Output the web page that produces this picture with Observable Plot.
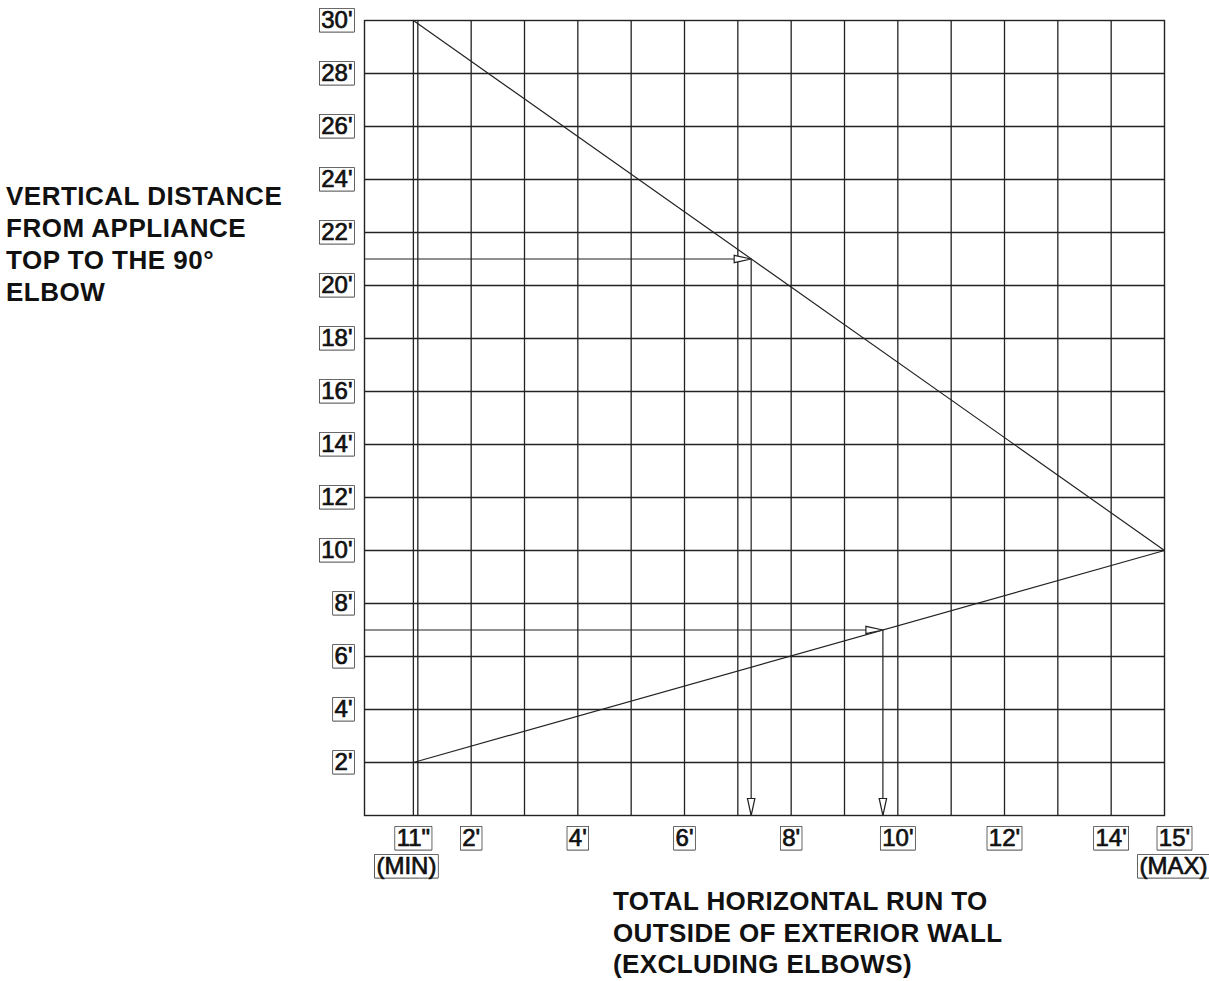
<!DOCTYPE html>
<html>
<head>
<meta charset="utf-8">
<script src="https://cdn.jsdelivr.net/npm/d3@7"></script>
<script src="https://cdn.jsdelivr.net/npm/@observablehq/plot@0.6"></script>
<style>
  html, body { margin: 0; padding: 0; background: #fff; }
  #wrap { position: relative; width: 1209px; height: 981px; font-family: "Liberation Sans", Arial, sans-serif; color: #111; }
  #ytitle { position: absolute; left: 6px; top: 180px; font-size: 26px; line-height: 32px; font-weight: bold; letter-spacing: 0.5px; }
  #xtitle { position: absolute; left: 613px; top: 886px; font-size: 26px; line-height: 31.5px; font-weight: bold; letter-spacing: 0.4px; }
  #chart { position: absolute; left: 0; top: 0; }
</style>
</head>
<body>
<div id="wrap">
  <div id="chart"></div>
  <div id="ytitle">VERTICAL DISTANCE<br>FROM APPLIANCE<br>TOP TO THE 90°<br>ELBOW</div>
  <div id="xtitle">TOTAL HORIZONTAL RUN TO<br>OUTSIDE OF EXTERIOR WALL<br>(EXCLUDING ELBOWS)</div>
</div>
<script>
// ---- data ----
const yTicks = [2, 4, 6, 8, 10, 12, 14, 16, 18, 20, 22, 24, 26, 28, 30];
const yTickLabels = ["2'", "4'", "6'", "8'", "10'", "12'", "14'", "16'", "18'", "20'", "22'", "24'", "26'", "28'", "30'"];
const xTicks = [11 / 12, 2, 4, 6, 8, 10, 12, 14];
const xTickLabels = ['11"', "2'", "4'", "6'", "8'", "10'", "12'", "14'"];
const xMaxTick = [15];
const xMaxLabel = ["15'"];
const subTicks = [11 / 12, 15];
const subLabels = ["(MIN)", "(MAX)"];
const xGrid = [1, 2, 3, 4, 5, 6, 7, 8, 9, 10, 11, 12, 13, 14];
const yGrid = [2, 4, 6, 8, 10, 12, 14, 16, 18, 20, 22, 24, 26, 28];
const minRun = 11 / 12;            // 11 inches
const limitX = [11 / 12, 15];
const upperY = [30, 10];
const lowerY = [2, 10];
const readV = [21, 7];             // example vertical distances
const readH = [7.25, 9.72];        // resulting horizontal runs

// ---- tables ----
const yLab = yTicks.map((v, i) => ({ v, label: yTickLabels[i] }));
const xLab = xTicks.map((v, i) => ({ v, label: xTickLabels[i] }));
const xMax = xMaxTick.map((v, i) => ({ v, label: xMaxLabel[i] }));
const xSubMin = [{ v: subTicks[0], label: subLabels[0] }];
const xSubMax = [{ v: subTicks[1], label: subLabels[1] }];
const upper = limitX.map((x, i) => ({ x, y: upperY[i] }));
const lower = limitX.map((x, i) => ({ x, y: lowerY[i] }));
const reads = readV.map((v, i) => ({ v, h: readH[i] }));

const headDown = { draw(ctx) { ctx.moveTo(0, 0); ctx.lineTo(-3.7, -17); ctx.lineTo(3.7, -17); ctx.closePath(); } };
const headRight = { draw(ctx) { ctx.moveTo(0, 0); ctx.lineTo(-17, -3.7); ctx.lineTo(-17, 3.7); ctx.closePath(); } };

const ink = "#222";
const H = 890;
const lab = { fontSize: 24, fill: "#111", stroke: "#111", strokeWidth: 0.7 };
const chart = Plot.plot({
  width: 1209,
  height: H,
  marginLeft: 364,
  marginRight: 45,
  marginTop: 20,
  marginBottom: H - 815,
  style: { fontFamily: "'Liberation Sans', Arial, sans-serif", background: "white", color: "#111" },
  x: { domain: [0, 15], axis: null },
  y: { domain: [0, 30], axis: null },
  marks: [
    Plot.ruleX(xGrid, { x: d => d, y1: 0, y2: 30, stroke: ink, strokeWidth: 1.3 }),
    Plot.ruleX([minRun], { x: d => d, y1: 0, y2: 30, stroke: ink, strokeWidth: 1.3 }),
    Plot.ruleY(yGrid, { y: d => d, x1: 0, x2: 15, stroke: ink, strokeWidth: 1.3 }),
    Plot.frame({ stroke: ink, strokeWidth: 1.4 }),
    Plot.line(upper, { x: "x", y: "y", stroke: ink, strokeWidth: 1.2 }),
    Plot.line(lower, { x: "x", y: "y", stroke: ink, strokeWidth: 1.2 }),
    Plot.ruleY(reads, { y: "v", x1: 0, x2: "h", stroke: ink, strokeWidth: 1.2 }),
    Plot.ruleX(reads, { x: "h", y1: "v", y2: 0, stroke: ink, strokeWidth: 1.2 }),
    Plot.dot(reads, { x: "h", y: "v", symbol: headRight, fill: "white", stroke: ink, strokeWidth: 1.2 }),
    Plot.dot(reads, { x: "h", y: () => 0, symbol: headDown, fill: "white", stroke: ink, strokeWidth: 1.2 }),
    Plot.text(yLab, { x: () => 0, y: "v", text: "label", textAnchor: "end", dx: -12, ...lab }),
    Plot.text(xLab, { x: "v", y: () => 0, text: "label", textAnchor: "middle", lineAnchor: "middle", dy: 23, ...lab }),
    Plot.text(xMax, { x: "v", y: () => 0, text: "label", textAnchor: "middle", lineAnchor: "middle", dx: 10, dy: 23, ...lab }),
    Plot.text(xSubMin, { x: "v", y: () => 0, text: "label", textAnchor: "middle", lineAnchor: "middle", dx: -7, dy: 51, ...lab }),
    Plot.text(xSubMax, { x: "v", y: () => 0, text: "label", textAnchor: "middle", lineAnchor: "middle", dx: 9, dy: 51, ...lab })
  ]
});
document.getElementById("chart").append(chart);

// draw a box around each label
const ns = "http://www.w3.org/2000/svg";
chart.querySelectorAll('g[aria-label="text"] text').forEach(t => {
  const b = t.getBBox();
  const r = document.createElementNS(ns, "rect");
  r.setAttribute("x", b.x - 1.5);
  r.setAttribute("y", b.y + 2.5);
  r.setAttribute("width", b.width + 3);
  r.setAttribute("height", b.height - 4);
  r.setAttribute("fill", "white");
  r.setAttribute("stroke", ink);
  r.setAttribute("stroke-width", 1.4);
  if (t.getAttribute("transform")) r.setAttribute("transform", t.getAttribute("transform"));
  t.parentNode.insertBefore(r, t);
});
</script>
</body>
</html>
